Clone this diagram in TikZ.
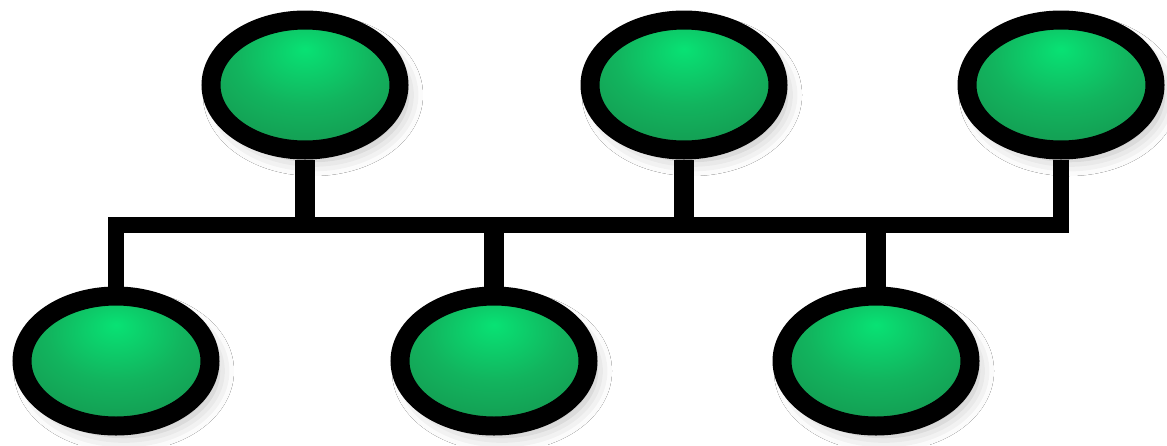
\documentclass[tikz,border=0pt]{standalone}
\usetikzlibrary{shapes.geometric,shadows.blur}
\definecolor{hostcore}{RGB}{8,226,116}
\definecolor{hostmid}{RGB}{18,180,94}
\definecolor{hostedge}{RGB}{22,132,70}
% glow centred a little above the middle of each host
\pgfdeclareradialshading{hostglow}{\pgfpoint{0bp}{14bp}}{%
  color(0bp)=(hostcore); color(18bp)=(hostmid); color(46bp)=(hostedge); color(70bp)=(hostedge)}
\tikzset{
  host/.style={ellipse, draw=black, line width=19pt, inner sep=0pt,
    minimum width=188pt, minimum height=130pt,
    shading=hostglow,
    blur shadow={shadow xshift=8pt, shadow yshift=-10pt, shadow blur radius=16pt, shadow opacity=28}},
  wire/.style={line width=20pt, draw=black, line join=miter},
  bus/.style={line width=16pt, draw=black, line join=miter}
}
\begin{document}
\begin{tikzpicture}[x=1pt,y=-1pt]
  \useasboundingbox[fill=white] (0,0) rectangle (1167,445);
  % the shared bus line
  \coordinate (busline) at (0,225);
  % hosts above and below the bus
  \node[host] (t1) at (305,85) {};
  \node[host] (t2) at (684,85) {};
  \node[host] (t3) at (1061,85) {};
  \node[host] (b1) at (116,361) {};
  \node[host] (b2) at (494,361) {};
  \node[host] (b3) at (876,361) {};
  % bus with its two end drops, then the drops of the other hosts
  \draw[bus] (b1.north) -- (b1 |- busline) -- (t3 |- busline) -- (t3.south);
  \draw[wire] (t1.south) -- (t1 |- busline);
  \draw[wire] (t2.south) -- (t2 |- busline);
  \draw[wire] (b2.north) -- (b2 |- busline);
  \draw[wire] (b3.north) -- (b3 |- busline);
\end{tikzpicture}
\end{document}
